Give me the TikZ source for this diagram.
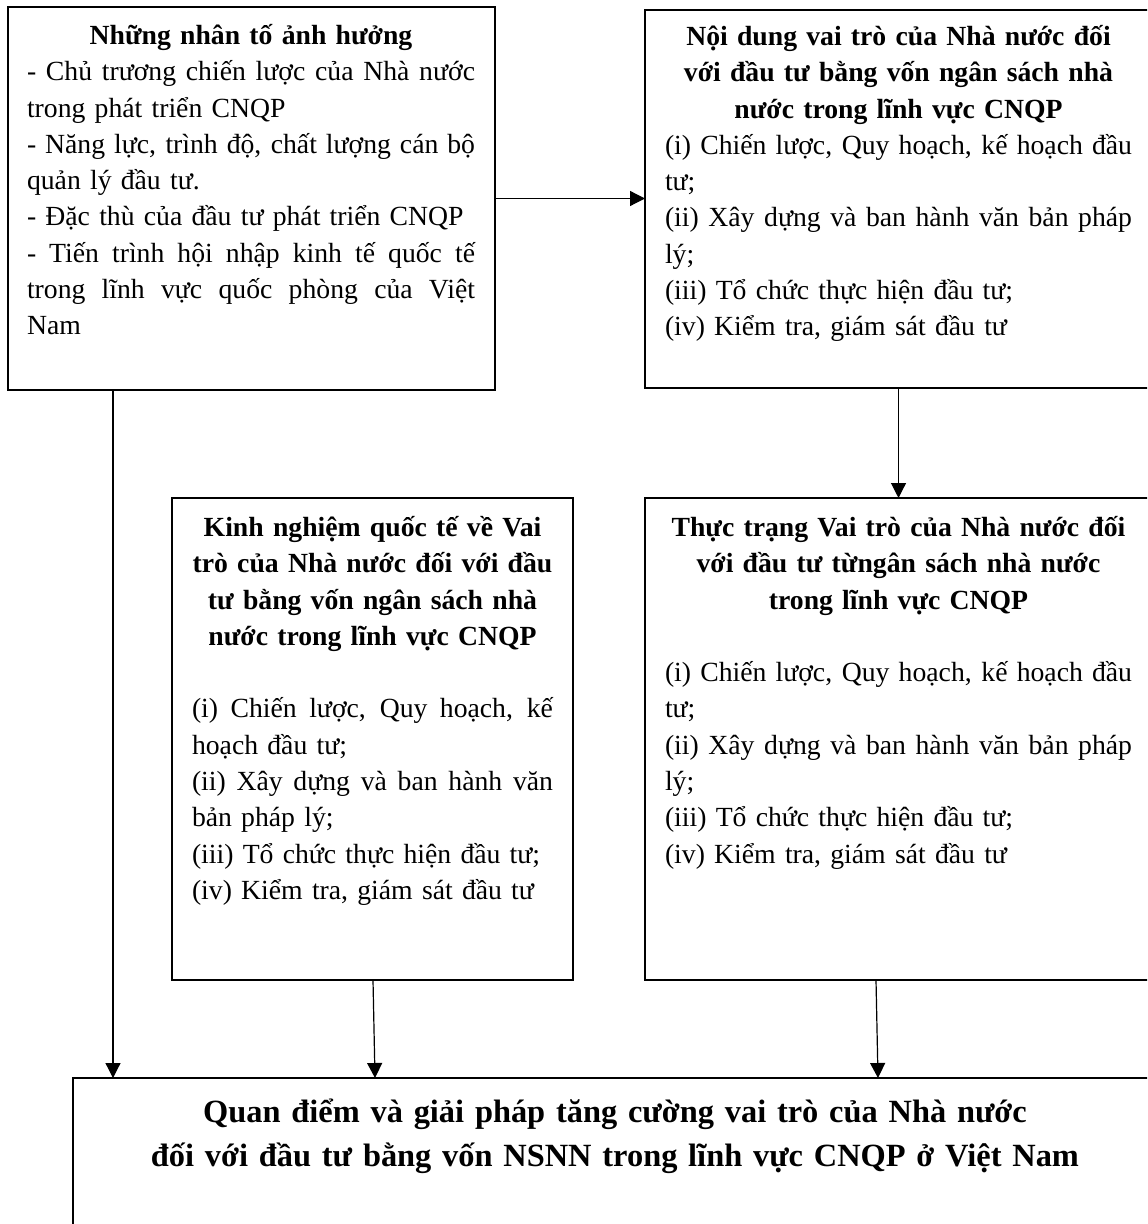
\documentclass[tikz,border=0pt]{standalone}
\usepackage{fontspec}
\setmainfont{Liberation Serif}
\usetikzlibrary{arrows.meta}
\newcommand\bodyfont{\fontsize{13.85pt}{18.15pt}\selectfont}
\newcommand\bigfont{\fontsize{16.2pt}{22pt}\selectfont}
\newcommand\jl[1]{\makebox[\hsize][s]{\spaceskip=0pt\xspaceskip=0pt #1}}
\newcommand\oneline[1]{\mbox{#1}}
\begin{document}
\begin{tikzpicture}[x=0.5pt,y=-0.5pt,
  box/.style={draw, line width=0.9pt, inner sep=0pt, outer sep=0pt, anchor=north west},
  txt/.style={inner sep=0pt, outer sep=0pt, anchor=north west, align=left, font=\bodyfont},
  arr/.style={-{Triangle[length=7.5pt,width=7.5pt]}, line width=0.6pt}]
\useasboundingbox (0,0) rectangle (1147,1224);
\clip (0,0) rectangle (1147,1224);
\fill[white] (0,0) rectangle (1147,1224);

% boxes
\node[box, minimum width=243.5pt, minimum height=191.5pt] (b1) at (8,7) {};
\node[box, minimum width=253.5pt, minimum height=189pt] (b2) at (645,10) {};
\node[box, minimum width=200.5pt, minimum height=241pt] (b3) at (172,498) {};
\node[box, minimum width=253.5pt, minimum height=241pt] (b4) at (645,498) {};
\node[box, minimum width=542pt, minimum height=100pt] (b5) at (73,1078) {};

% texts
\node[txt, text width=224pt] (t1) at ([shift={(9.5pt,-6pt)}]b1.north west) {%
{\centering\bfseries\strut\oneline{Những nhân tố ảnh hưởng}\par}
\jl{- Chủ trương chiến lược của Nhà nước}\\
\oneline{trong phát triển CNQP}\\
\jl{- Năng lực, trình độ, chất lượng cán bộ}\\
\oneline{quản lý đầu tư.}\\
\oneline{- Đặc thù của đầu tư phát triển CNQP}\\
\jl{- Tiến trình hội nhập kinh tế quốc tế}\\
\jl{trong lĩnh vực quốc phòng của Việt}\\
\oneline{Nam}};

\node[txt, text width=233.5pt] (t2) at ([shift={(10pt,-5pt)}]b2.north west) {%
{\centering\bfseries\strut\oneline{Nội dung vai trò của Nhà nước đối}\\
\oneline{với đầu tư bằng vốn ngân sách nhà}\\
\oneline{nước trong lĩnh vực CNQP}\par}
\jl{(i) Chiến lược, Quy hoạch, kế hoạch đầu}\\
\oneline{tư;}\\
\jl{(ii) Xây dựng và ban hành văn bản pháp}\\
\oneline{lý;}\\
\oneline{(iii) Tổ chức thực hiện đầu tư;}\\
\oneline{(iv) Kiểm tra, giám sát đầu tư}};

\node[txt, text width=180.5pt] (t3) at ([shift={(10pt,-6.5pt)}]b3.north west) {%
{\centering\bfseries\strut\oneline{Kinh nghiệm quốc tế về Vai}\\
\oneline{trò của Nhà nước đối với đầu}\\
\oneline{tư bằng vốn ngân sách nhà}\\
\oneline{nước trong lĩnh vực CNQP}\par}
\mbox{}\\
\jl{(i) Chiến lược, Quy hoạch, kế}\\
\oneline{hoạch đầu tư;}\\
\jl{(ii) Xây dựng và ban hành văn}\\
\oneline{bản pháp lý;}\\
\oneline{(iii) Tổ chức thực hiện đầu tư;}\\
\oneline{(iv) Kiểm tra, giám sát đầu tư}};

\node[txt, text width=233.5pt] (t4) at ([shift={(10pt,-6.5pt)}]b4.north west) {%
{\centering\bfseries\strut\oneline{Thực trạng Vai trò của Nhà nước đối}\\
\oneline{với đầu tư từngân sách nhà nước}\\
\oneline{trong lĩnh vực CNQP}\par}
\mbox{}\\
\jl{(i) Chiến lược, Quy hoạch, kế hoạch đầu}\\
\oneline{tư;}\\
\jl{(ii) Xây dựng và ban hành văn bản pháp}\\
\oneline{lý;}\\
\oneline{(iii) Tổ chức thực hiện đầu tư;}\\
\oneline{(iv) Kiểm tra, giám sát đầu tư}};

\node[inner sep=0pt, outer sep=0pt, anchor=north, align=center, text width=520pt, font=\bigfont\bfseries] (t5) at ([yshift=-7pt]b5.north) {%
\strut\oneline{Quan điểm và giải pháp tăng cường vai trò của Nhà nước}\\
\oneline{đối với đầu tư bằng vốn NSNN trong lĩnh vực CNQP ở Việt Nam}};

% connector coordinates
\coordinate (a1) at ([xshift=52.5pt]b1.south west);
\coordinate (a1e) at (a1 |- b5.north);
\coordinate (a3) at ([xshift=100.5pt]b3.south west);
\coordinate (a3x) at ([xshift=101.5pt]b3.south west);
\coordinate (a3e) at (a3x |- b5.north);
\coordinate (a4) at ([xshift=115.5pt]b4.south west);
\coordinate (a4x) at ([xshift=116.5pt]b4.south west);
\coordinate (a4e) at (a4x |- b5.north);

% connectors
\draw[arr] (b1.east) -- (b1.east -| b2.west);
\draw[arr] (b2.south) -- (b2.south |- b4.north);
\draw[arr] (a1) -- (a1e);
\draw[arr] (a3) -- (a3e);
\draw[arr] (a4) -- (a4e);
\end{tikzpicture}
\end{document}
